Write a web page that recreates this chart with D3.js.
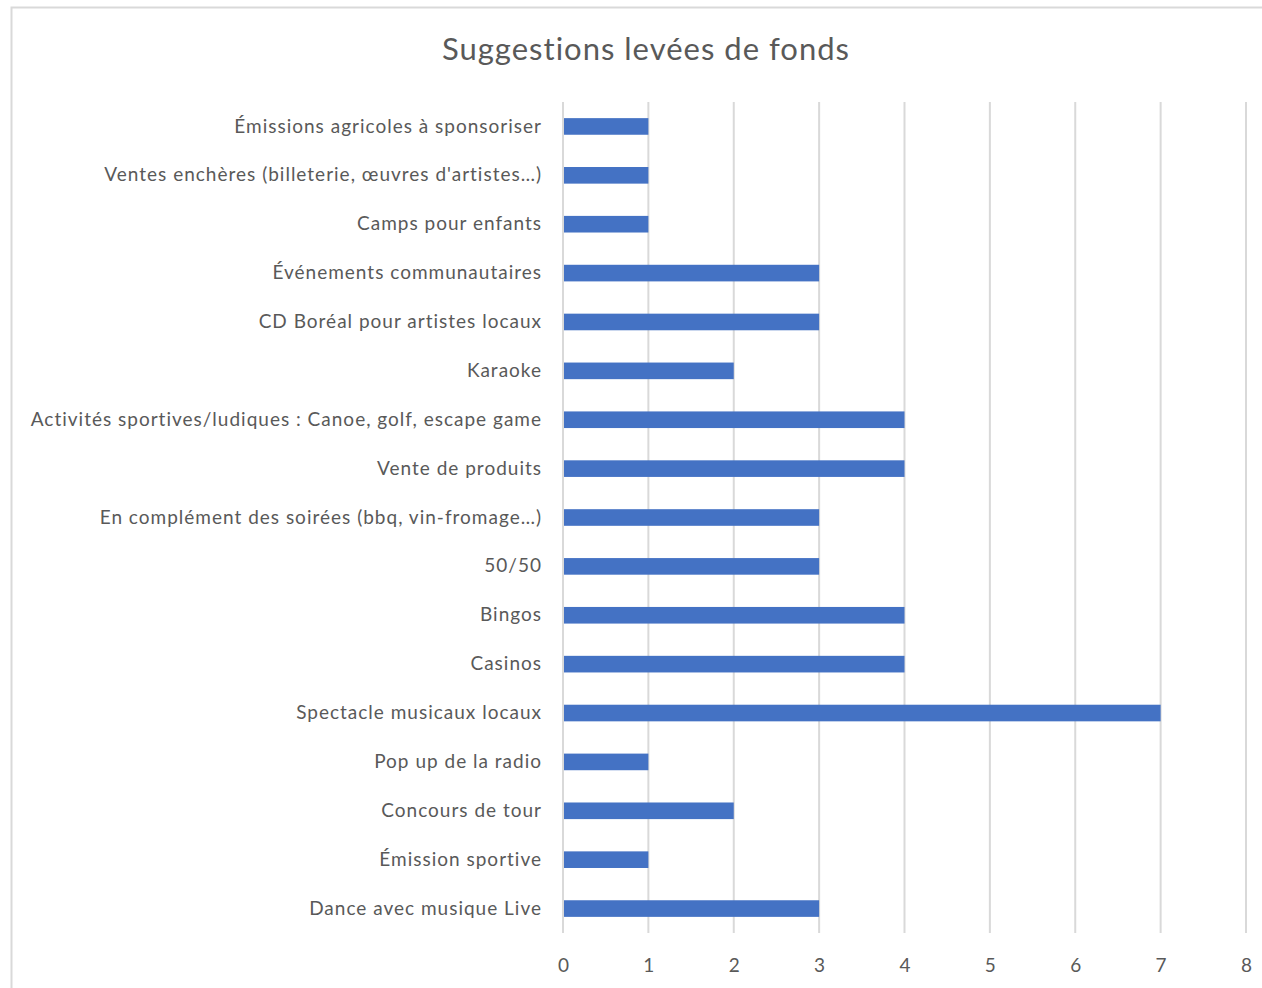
<!DOCTYPE html>
<html>
<head>
<meta charset="utf-8">
<script src="https://cdn.jsdelivr.net/npm/d3@7"></script>
<style>
  body { margin: 0; background: #fff; }
  svg { display: block; }
  text { font-family: Lato, "Open Sans", sans-serif; fill: #595959; }
</style>
</head>
<body>
<svg id="chart"></svg>
<script>
var categories = [
    "Émissions agricoles à sponsoriser",
    "Ventes enchères (billeterie, œuvres d'artistes…)",
    "Camps pour enfants",
    "Événements communautaires",
    "CD Boréal pour artistes locaux",
    "Karaoke",
    "Activités sportives/ludiques : Canoe, golf, escape game",
    "Vente de produits",
    "En complément des soirées (bbq, vin-fromage…)",
    "50/50",
    "Bingos",
    "Casinos",
    "Spectacle musicaux locaux",
    "Pop up de la radio",
    "Concours de tour",
    "Émission sportive",
    "Dance avec musique Live"
];
var values = [1, 1, 1, 3, 3, 2, 4, 4, 3, 3, 4, 4, 7, 1, 2, 1, 3];
var xTicks = [0, 1, 2, 3, 4, 5, 6, 7, 8];
var title = "Suggestions levées de fonds";

var width = 1262, height = 988;
var svg = d3.select("#chart")
    .attr("width", width)
    .attr("height", height);

// chart frame (runs off the right and bottom edge like the screenshot)
svg.append("rect")
    .attr("x", 11.5)
    .attr("y", 7.5)
    .attr("width", 1270)
    .attr("height", 1000)
    .attr("fill", "none")
    .attr("stroke", "#d9d9d9")
    .attr("stroke-width", 2);

var plot = { left: 563, right: 1246, top: 102, bottom: 933 };

var x = d3.scaleLinear()
    .domain([0, 8])
    .range([plot.left, plot.right]);

var y = d3.scaleBand()
    .domain(categories)
    .range([plot.top, plot.bottom])
    .paddingInner(0.66)
    .paddingOuter(0.33);

// gridlines
svg.append("g")
    .selectAll("line")
    .data(xTicks)
    .enter()
    .append("line")
    .attr("x1", function (d) { return x(d); })
    .attr("x2", function (d) { return x(d); })
    .attr("y1", plot.top)
    .attr("y2", plot.bottom)
    .attr("stroke", "#d9d9d9")
    .attr("stroke-width", 2);

// bars
svg.append("g")
    .selectAll("rect")
    .data(values)
    .enter()
    .append("rect")
    .attr("x", x(0) + 1)
    .attr("y", function (d, i) { return y(categories[i]); })
    .attr("width", function (d) { return x(d) - x(0) - 1; })
    .attr("height", y.bandwidth())
    .attr("fill", "#4472c4");

// x axis labels
var xAxis = d3.axisBottom(x)
    .tickValues(xTicks)
    .tickSize(0)
    .tickPadding(0);
var gx = svg.append("g")
    .attr("transform", "translate(0," + (plot.bottom + 25) + ")")
    .call(xAxis);
gx.attr("font-family", null);
gx.select(".domain").remove();
gx.selectAll("text")
    .attr("font-size", 19)
    .attr("dy", "0.71em");

// y axis labels
var yAxis = d3.axisLeft(y)
    .tickSize(0)
    .tickPadding(21);
var gy = svg.append("g")
    .attr("transform", "translate(" + plot.left + ",0)")
    .call(yAxis);
gy.attr("font-family", null);
gy.select(".domain").remove();
gy.selectAll("text")
    .attr("font-size", 19)
    .attr("letter-spacing", 1);

// title
svg.append("text")
    .attr("x", 646)
    .attr("y", 60)
    .attr("text-anchor", "middle")
    .attr("font-size", 31)
    .attr("letter-spacing", 1)
    .text(title);
</script>
</body>
</html>
